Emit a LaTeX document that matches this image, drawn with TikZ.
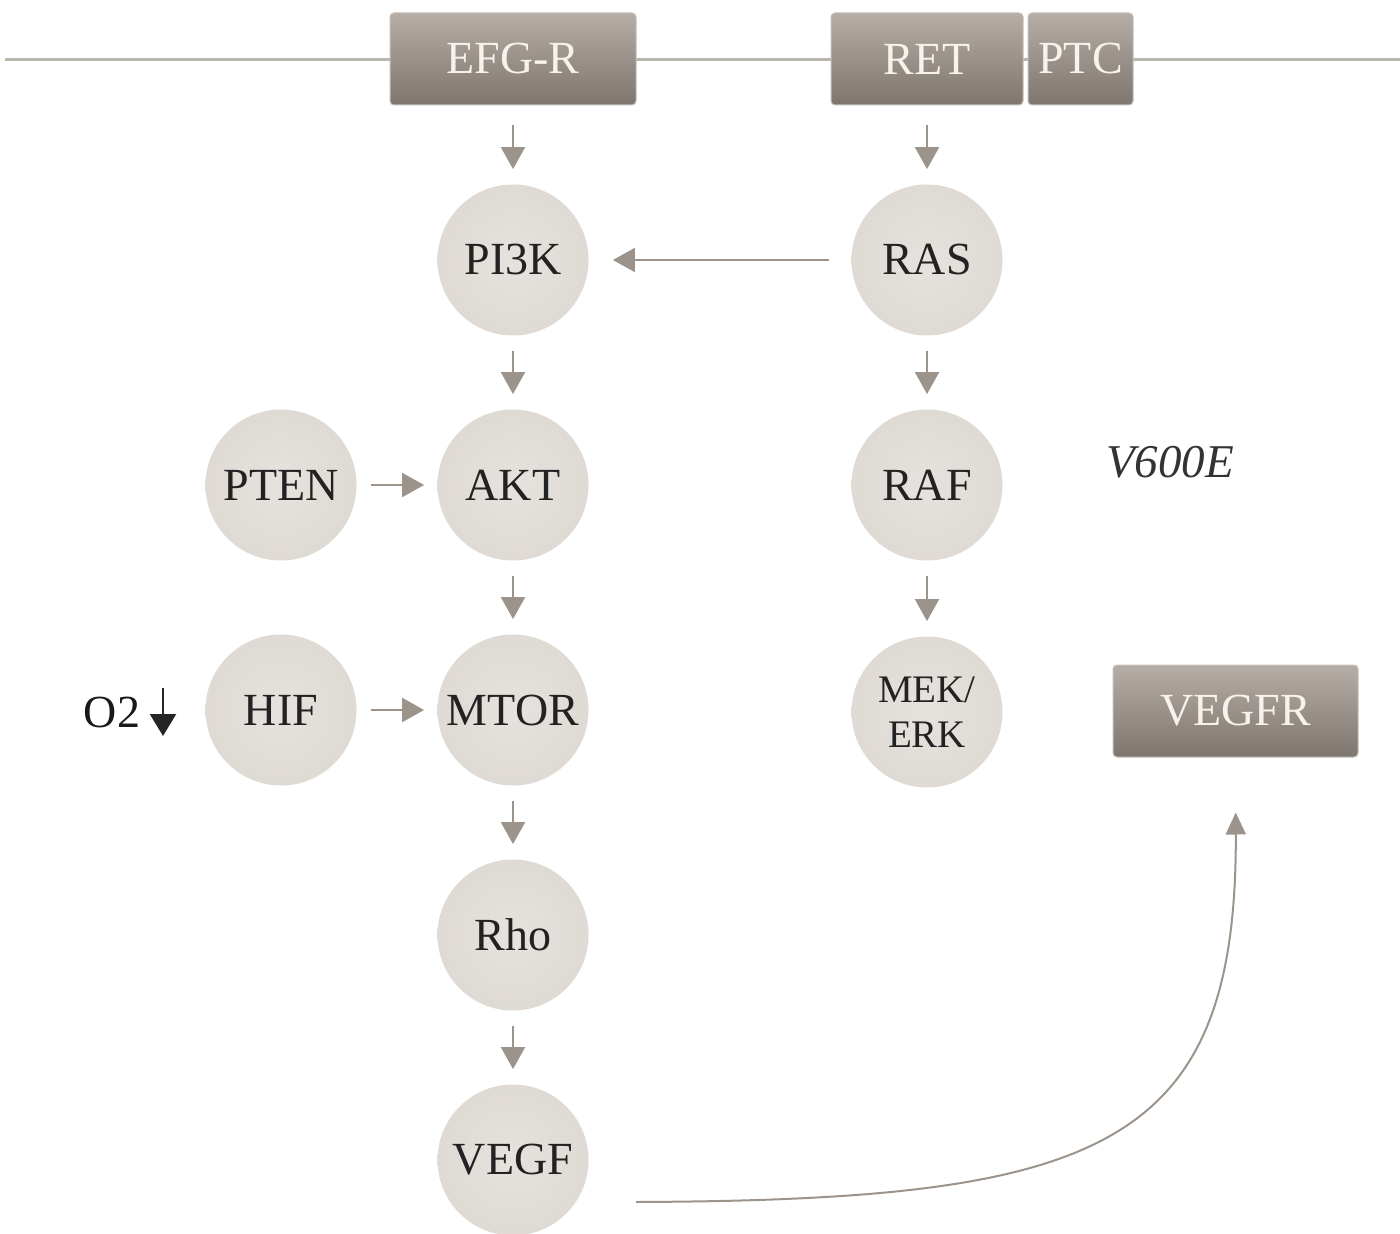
\documentclass[tikz,border=0pt]{standalone}
\usepackage{fontspec}
\setmainfont{Liberation Serif}
\usetikzlibrary{arrows.meta}
\definecolor{linec}{HTML}{B9B6AE}
\definecolor{arrc}{HTML}{9C948B}
\definecolor{boxtop}{HTML}{B6AEA6}
\definecolor{boxbot}{HTML}{7E766E}
\definecolor{ballin}{HTML}{E6E2DD}
\definecolor{ballmid}{HTML}{DDD8D2}
\definecolor{ballout}{HTML}{C0B8B0}
\definecolor{boxtext}{HTML}{F7F3EC}
\definecolor{balltext}{HTML}{222222}
\pgfdeclareradialshading{ballshade}{\pgfpoint{0bp}{0bp}}{color(0bp)=(ballin); color(30bp)=(ballmid); color(50bp)=(ballout)}
\begin{document}
\begin{tikzpicture}[x=0.5pt,y=-0.5pt,
  ball/.style={circle, minimum size=75.5pt, inner sep=0pt, shading=ballshade, text=balltext, font=\fontsize{23}{26}\selectfont},
  rbox/.style={rectangle, rounded corners=2pt, top color=boxtop, bottom color=boxbot, draw=boxtop!80!white, line width=0.5pt, text=boxtext, font=\fontsize{23}{26}\selectfont, inner sep=0pt, minimum height=46pt},
  arr/.style={draw=arrc, color=arrc, line width=1pt, -{Triangle[length=11pt,width=12pt]}},
  membrane/.style={draw=linec, line width=1.5pt},
]
\useasboundingbox (0,0) rectangle (1400,1234);
\fill[white] (0,0) rectangle (1400,1234);

% membrane line
\coordinate (memL) at (5,60);
\coordinate (memR) at (1400,60);
\draw[membrane] (memL) -- (memR);

% receptor boxes
\node[rbox, minimum width=123pt] (efgr) at (513,59) {EFG-R};
\node[rbox, minimum width=96pt] (ret) at (927,59) {RET};
\node[rbox, minimum width=52.5pt] (ptc) at (1080.5,59) {PTC};
\node[rbox, minimum width=122.5pt] (vegfr) at (1235.5,711) {VEGFR};

% left column
\node[ball] (pi3k) at (513,260) {PI3K};
\node[ball] (akt) at (513,485) {AKT};
\node[ball] (mtor) at (513,710) {MTOR};
\node[ball] (rho) at (513,935) {Rho};
\node[ball] (vegf) at (513,1160) {VEGF};
\node[ball] (pten) at (281,485) {PTEN};
\node[ball] (hif) at (281,710) {HIF};

% right column
\node[ball] (ras) at (927,260) {RAS};
\node[ball] (raf) at (927,485) {RAF};
\node[ball, align=center, font=\fontsize{19.5}{22.5}\selectfont] (mek) at (927,712) {MEK/\\ERK};

% labels
\node[text=black!80, font=\fontsize{23.5}{26}\selectfont\itshape] (v600e) at (1170,462) {V600E};
\node[text=black!90, font=\fontsize{23}{26}\selectfont] (o2) at (112,712) {O2};
\coordinate (o2top) at (163,688);
\coordinate (o2bot) at (163,736);
\draw[black!85, line width=1.2pt, -{Triangle[length=11pt,width=13pt]}] (o2top) -- (o2bot);

% arrows
\draw[arr, shorten <=10pt, shorten >=7.5pt] (efgr) -- (pi3k);
\draw[arr, shorten <=10pt, shorten >=7.5pt] (ret) -- (ras);
\draw[arr, shorten <=7.5pt, shorten >=7.5pt] (pi3k) -- (akt);
\draw[arr, shorten <=7.5pt, shorten >=7.5pt] (akt) -- (mtor);
\draw[arr, shorten <=7.5pt, shorten >=7.5pt] (mtor) -- (rho);
\draw[arr, shorten <=7.5pt, shorten >=7.5pt] (rho) -- (vegf);
\draw[arr, shorten <=7.5pt, shorten >=7.5pt] (ras) -- (raf);
\draw[arr, shorten <=7.5pt, shorten >=7.5pt] (raf) -- (mek);
\draw[arr, shorten <=11pt, shorten >=12pt] (ras) -- (pi3k);
\draw[arr, shorten <=7pt, shorten >=6.5pt] (pten) -- (akt);
\draw[arr, shorten <=7pt, shorten >=6.5pt] (hif) -- (mtor);

% curved arrow VEGF -> VEGFR
\coordinate (cstart) at (636,1202);
\draw[arr, -{Triangle[length=11pt,width=10pt]}, shorten >=27.5pt] (cstart) .. controls (1100,1200) and (1237,1150) .. (vegfr.south);
\end{tikzpicture}
\end{document}
